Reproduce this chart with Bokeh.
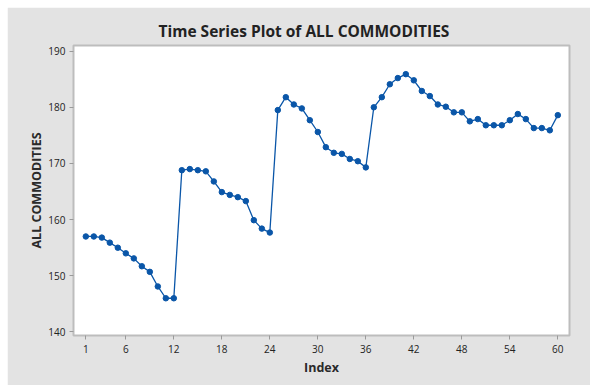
from bokeh.plotting import figure
from bokeh.models import FixedTicker, Range1d
from bokeh.embed import file_html
from bokeh.resources import INLINE

index = list(range(1, 61))
values = [157.0, 157.0, 156.8, 155.9, 155.0, 154.0, 153.1, 151.7, 150.7, 148.1,
          146.0, 146.0, 168.8, 169.0, 168.8, 168.6, 166.8, 164.9, 164.4, 164.0,
          163.3, 159.9, 158.4, 157.7, 179.5, 181.8, 180.5, 179.8, 177.7, 175.6,
          172.9, 171.9, 171.7, 170.8, 170.4, 169.3, 180.0, 181.8, 184.1, 185.2,
          185.9, 184.8, 182.9, 182.0, 180.5, 180.1, 179.1, 179.1, 177.5, 177.9,
          176.8, 176.8, 176.8, 177.7, 178.8, 177.9, 176.3, 176.3, 175.9, 178.6]
x_ticks = [1, 6, 12, 18, 24, 30, 36, 42, 48, 54, 60]
y_ticks = [140, 150, 160, 170, 180, 190]

BG = "#e3e3e3"
BLUE = "#0a56a8"
FONT = "Open Sans"

p = figure(width=583, height=378, output_backend="svg", toolbar_location=None,
           x_range=Range1d(-0.54, 61.46), y_range=Range1d(139.37, 191.0),
           title="Time Series Plot of ALL COMMODITIES")
p.margin = (7, 0, 0, 7)
p.min_border_left = 66
p.min_border_right = 21
p.min_border_top = 38
p.min_border_bottom = 50
p.border_fill_color = BG
p.background_fill_color = "white"
p.outline_line_color = "#bdbdbd"
p.outline_line_width = 2
p.xgrid.visible = False
p.ygrid.visible = False

p.title.align = "left"
p.title.offset = 85
p.title.text_font = FONT
p.title.text_font_size = "15.5px"
p.title.text_font_style = "bold"
p.title.text_color = "#222222"
p.title.standoff = 8

for ax in (p.xaxis[0], p.yaxis[0]):
    ax.axis_line_color = None
    ax.major_tick_line_color = "#9a9a9a"
    ax.major_tick_in = 0
    ax.major_tick_out = 4
    ax.minor_tick_line_color = None
    ax.major_label_text_font = FONT
    ax.major_label_text_font_size = "10px"
    ax.major_label_text_color = "#222222"
    ax.axis_label_text_font = FONT
    ax.axis_label_text_font_size = "12.5px"
    ax.axis_label_text_font_style = "bold"
    ax.axis_label_text_color = "#2a2a2a"

p.xaxis.ticker = FixedTicker(ticks=x_ticks)
p.yaxis.ticker = FixedTicker(ticks=y_ticks)
p.xaxis.axis_label = "Index"
p.yaxis.axis_label = "ALL COMMODITIES"
p.xaxis.major_label_standoff = 5
p.yaxis.major_label_standoff = 4
p.xaxis.axis_label_standoff = 3
p.yaxis.axis_label_standoff = 0

p.line(index, values, line_color=BLUE, line_width=1.3)
p.scatter(index, values, size=5.5, fill_color=BLUE, line_color=BLUE)

open("out.html", "w").write(file_html(p, INLINE))
